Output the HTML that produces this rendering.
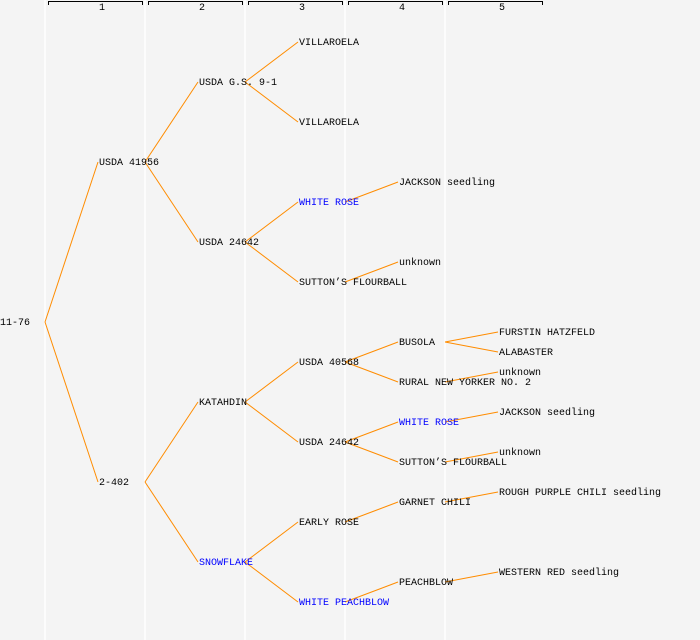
<!DOCTYPE html>
<html><head><meta charset="utf-8"><style>
html,body{margin:0;padding:0;background:#f4f4f4;}
svg{display:block;}
text{font-family:"Liberation Mono","DejaVu Sans Mono",monospace;font-size:10px;}
</style></head><body>
<svg width="700" height="640" xmlns="http://www.w3.org/2000/svg">
<rect width="700" height="640" fill="#f4f4f4"/>
<g stroke="#ffffff" stroke-width="1.5">
<line x1="45" y1="0" x2="45" y2="640"/><line x1="145" y1="0" x2="145" y2="640"/>
<line x1="245" y1="0" x2="245" y2="640"/><line x1="345" y1="0" x2="345" y2="640"/>
<line x1="445" y1="0" x2="445" y2="640"/>
</g>
<g stroke="#000" stroke-width="1" fill="none">
<path d="M48.5 5V1.5H142.5V5"/><path d="M148.5 5V1.5H242.5V5"/><path d="M248.5 5V1.5H342.5V5"/><path d="M348.5 5V1.5H442.5V5"/><path d="M448.5 5V1.5H542.5V5"/>
</g>
<g text-anchor="middle" style="font-size:8px">
<text x="102" y="10">1</text><text x="202" y="10">2</text><text x="302" y="10">3</text><text x="402" y="10">4</text><text x="502" y="10">5</text>
</g>
<g stroke="#ff8c00" stroke-width="1" fill="none">
<line x1="45" y1="322" x2="98" y2="162"/><line x1="45" y1="322" x2="98" y2="482"/>
<line x1="145" y1="162" x2="198" y2="82"/><line x1="145" y1="162" x2="198" y2="242"/>
<line x1="145" y1="482" x2="198" y2="402"/><line x1="145" y1="482" x2="198" y2="562"/>
<line x1="245" y1="82" x2="298" y2="42"/><line x1="245" y1="82" x2="298" y2="122"/>
<line x1="245" y1="242" x2="298" y2="202"/><line x1="245" y1="242" x2="298" y2="282"/>
<line x1="245" y1="402" x2="298" y2="362"/><line x1="245" y1="402" x2="298" y2="442"/>
<line x1="245" y1="562" x2="298" y2="522"/><line x1="245" y1="562" x2="298" y2="602"/>
<line x1="345" y1="202" x2="398" y2="182"/><line x1="345" y1="282" x2="398" y2="262"/>
<line x1="345" y1="362" x2="398" y2="342"/><line x1="345" y1="362" x2="398" y2="382"/>
<line x1="345" y1="442" x2="398" y2="422"/><line x1="345" y1="442" x2="398" y2="462"/>
<line x1="345" y1="522" x2="398" y2="502"/><line x1="345" y1="602" x2="398" y2="582"/>
<line x1="445" y1="342" x2="498" y2="332"/><line x1="445" y1="342" x2="498" y2="352"/>
<line x1="445" y1="382" x2="498" y2="372"/><line x1="445" y1="422" x2="498" y2="412"/>
<line x1="445" y1="462" x2="498" y2="452"/><line x1="445" y1="502" x2="498" y2="492"/>
<line x1="445" y1="582" x2="498" y2="572"/>
</g>
<g fill="#000" transform="translate(0,-1)">
<text x="0" y="326">11-76</text>
<text x="99" y="166">USDA 41956</text><text x="99" y="486">2-402</text>
<text x="199" y="86">USDA G.S. 9-1</text><text x="199" y="246">USDA 24642</text><text x="199" y="406">KATAHDIN</text><text x="199" y="566" fill="#0000ff">SNOWFLAKE</text>
<text x="299" y="46">VILLAROELA</text><text x="299" y="126">VILLAROELA</text><text x="299" y="206" fill="#0000ff">WHITE ROSE</text><text x="299" y="286">SUTTON’S FLOURBALL</text>
<text x="299" y="366">USDA 40568</text><text x="299" y="446">USDA 24642</text><text x="299" y="526">EARLY ROSE</text><text x="299" y="606" fill="#0000ff">WHITE PEACHBLOW</text>
<text x="399" y="186">JACKSON seedling</text><text x="399" y="266">unknown</text><text x="399" y="346">BUSOLA</text><text x="399" y="386">RURAL NEW YORKER NO. 2</text>
<text x="399" y="426" fill="#0000ff">WHITE ROSE</text><text x="399" y="466">SUTTON’S FLOURBALL</text><text x="399" y="506">GARNET CHILI</text><text x="399" y="586">PEACHBLOW</text>
<text x="499" y="336">FURSTIN HATZFELD</text><text x="499" y="356">ALABASTER</text><text x="499" y="376">unknown</text><text x="499" y="416">JACKSON seedling</text>
<text x="499" y="456">unknown</text><text x="499" y="496">ROUGH PURPLE CHILI seedling</text><text x="499" y="576">WESTERN RED seedling</text>
</g>
</svg>
</body></html>
